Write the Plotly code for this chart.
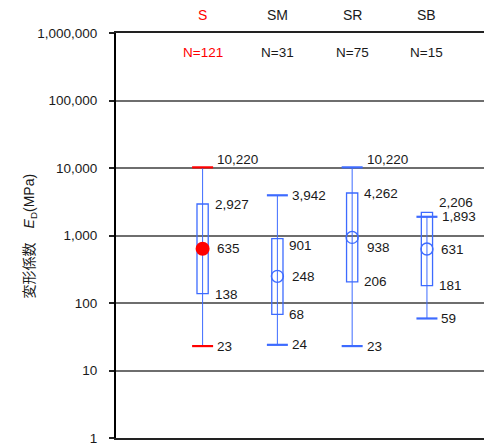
import numpy as np
import plotly.graph_objects as go

# Deformation modulus statistics per rock class
categories = ["S", "SM", "SR", "SB"]
counts = [121, 31, 75, 15]
v_max = [10220, 3942, 10220, 1893]
v_q3 = [2927, 901, 4262, 2206]
v_median = [635, 248, 938, 631]
v_q1 = [138, 68, 206, 181]
v_min = [23, 24, 23, 59]

tick_vals = [1, 10, 100, 1000, 10000, 100000, 1000000]
tick_text = ["1", "10", "100", "1,000", "10,000", "100,000", "1,000,000"]

RED = "#ff0000"
BLUE = "#3d6bff"
FONT = "Liberation Sans, Arial, sans-serif"
TEXT = "#1a1a1a"

xs = list(range(len(categories)))
fig = go.Figure()

# whiskers
wx, wy = [], []
for i in xs:
    wx += [i, i, None]
    wy += [v_min[i], v_max[i], None]
fig.add_trace(go.Scatter(x=wx, y=wy, mode="lines", line=dict(color=BLUE, width=1),
                         hoverinfo="skip", showlegend=False))

# interquartile boxes
fig.add_trace(go.Bar(x=xs, y=[q3 - q1 for q3, q1 in zip(v_q3, v_q1)], base=v_q1, width=0.15,
                     marker=dict(color="rgba(0,0,0,0)", line=dict(color=BLUE, width=1.3)),
                     showlegend=False))

# whisker caps
cap_colors = [RED if i == 0 else BLUE for i in xs]
fig.add_trace(go.Scatter(x=xs + xs, y=v_max + v_min, mode="markers",
                         marker=dict(symbol="line-ew", size=15,
                                     line=dict(color=cap_colors + cap_colors, width=2.2)),
                         showlegend=False))

# medians
fig.add_trace(go.Scatter(x=[0], y=[v_median[0]], mode="markers",
                         marker=dict(symbol="circle", size=14, color=RED), showlegend=False))
fig.add_trace(go.Scatter(x=xs[1:], y=v_median[1:], mode="markers",
                         marker=dict(symbol="circle-open", size=12, color=BLUE,
                                     line=dict(color=BLUE, width=1.4)),
                         showlegend=False))

# value labels: series, x offset in px, y offset in px per category
label_specs = [
    (v_max, [12.5, 12.5, 12.5, 13], [8, 0, 8, 0]),
    (v_q3, [10, 10, 10, 10], [0, -7, 0, 9.5]),
    (v_median, [12.5, 12.5, 12.5, 12.5], [0, 0, -10, 0]),
    (v_q1, [10, 10, 10, 10], [-1, 0, 0, 0]),
    (v_min, [12.5, 12.5, 12.5, 12.5], [0, 0, 0, 0]),
]
for series, dxs, dys in label_specs:
    for i in xs:
        fig.add_annotation(x=i, y=np.log10(series[i]), text=f"{series[i]:,}", showarrow=False,
                           xanchor="left", yanchor="middle", xshift=dxs[i], yshift=dys[i],
                           font=dict(family=FONT, size=13.5, color=TEXT))

# category names above the frame and sample counts inside it
for i in xs:
    col = RED if i == 0 else TEXT
    fig.add_annotation(x=i, y=1.0445, yref="paper", text=categories[i], showarrow=False,
                       xanchor="center", yanchor="middle", font=dict(family=FONT, size=14, color=col))
    fig.add_annotation(x=i, y=0.953, yref="paper", text=f"N={counts[i]}", showarrow=False,
                       xanchor="center", yanchor="middle", font=dict(family=FONT, size=13.5, color=col))

# y-axis title
fig.add_annotation(x=-0.234, y=0.5, xref="paper", yref="paper", textangle=-90,
                   text="変形係数\u3000<i>E</i><sub>D</sub>(MPa)", showarrow=False,
                   xanchor="center", yanchor="middle",
                   font=dict(family="Liberation Sans, Noto Sans CJK JP, sans-serif", size=14, color=TEXT))

fig.update_layout(
    width=484, height=445,
    margin=dict(l=116, r=0, t=33, b=7),
    paper_bgcolor="white", plot_bgcolor="white",
    xaxis=dict(range=[-1.158, 3.763], showticklabels=False, showgrid=False, zeroline=False,
               showline=True, linecolor="#222", linewidth=1.5, mirror=True, ticks=""),
    yaxis=dict(type="log", range=[0, 6], tickvals=tick_vals, ticktext=tick_text,
               showgrid=True, gridcolor="#6e6e6e", gridwidth=1.5, zeroline=False,
               showline=True, linecolor="black", linewidth=2,
               ticks="outside", ticklen=5, tickwidth=1.5, tickcolor="#222",
               ticklabelstandoff=9, ticklabeloverflow="allow",
               tickfont=dict(family=FONT, size=13.5, color=TEXT)),
)

fig.write_html("out.html")
